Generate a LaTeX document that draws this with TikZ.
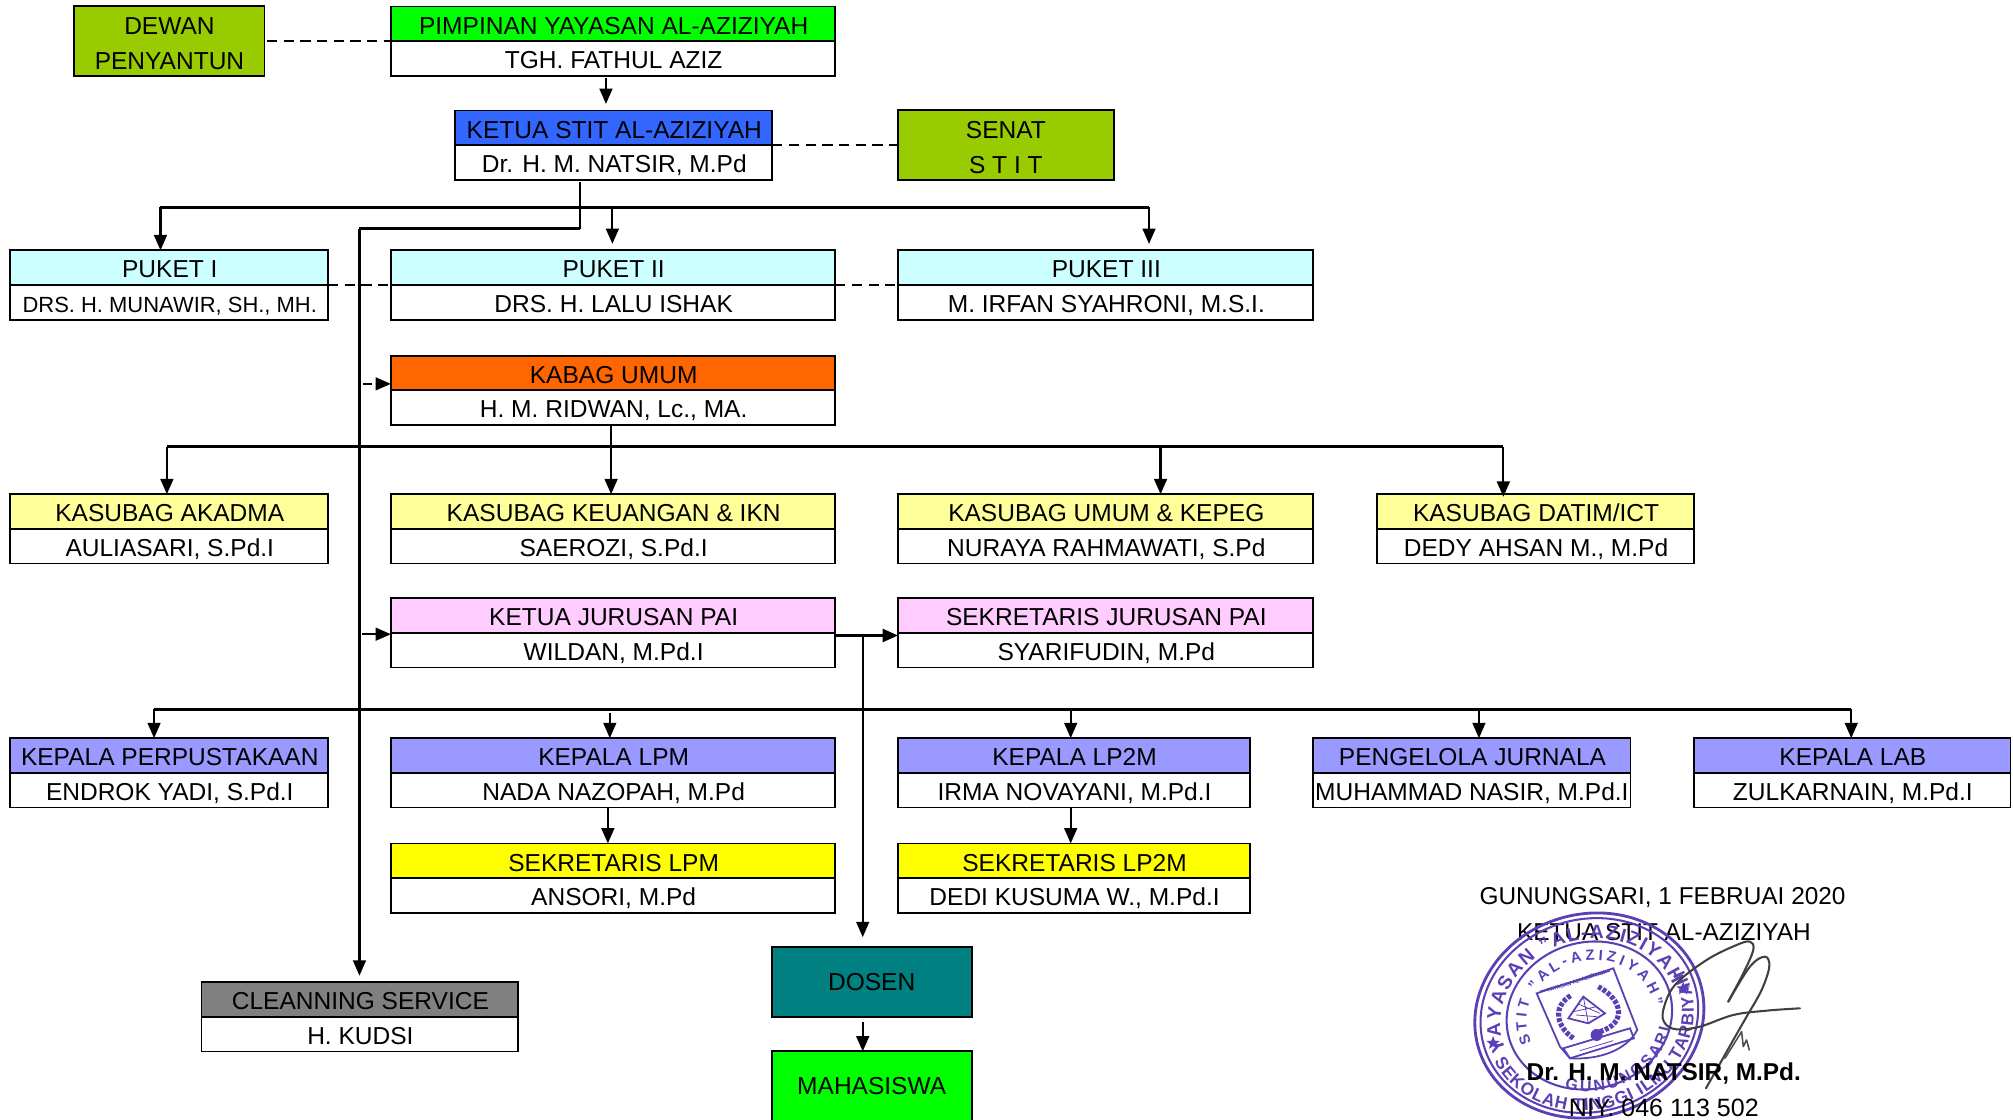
\documentclass[tikz,border=0pt]{standalone}
\usepackage{fontspec}
\setmainfont{Liberation Sans}
\usetikzlibrary{arrows.meta,calc,decorations.text,shapes.geometric}
\definecolor{cOlive}{HTML}{99CC00}
\definecolor{cGreen}{HTML}{00FF00}
\definecolor{cBlue}{HTML}{3366FF}
\definecolor{cCyan}{HTML}{CCFFFF}
\definecolor{cOrange}{HTML}{FF6600}
\definecolor{cLemon}{HTML}{FFFF99}
\definecolor{cPink}{HTML}{FFCCFF}
\definecolor{cPeri}{HTML}{9999FF}
\definecolor{cYellow}{HTML}{FFFF00}
\definecolor{cGray}{HTML}{808080}
\definecolor{cTeal}{HTML}{008080}
\definecolor{cStamp}{HTML}{5B3FB5}
\tikzset{
  cell/.style={draw=black,line width=1.4pt,inner sep=0pt,outer sep=0pt,font=\fontsize{19.1}{27}\selectfont,
     text height=16pt,text depth=0pt},
  solo/.style={draw=black,line width=1.5pt,inner sep=0pt,outer sep=0pt,font=\fontsize{19.1}{27}\selectfont,align=center},
  link/.style={line width=1.7pt,-{Triangle[width=10pt,length=12pt]}},
  thin link/.style={line width=1.7pt},
  bus/.style={line width=2.4pt},
  dash link/.style={line width=1.6pt,dash pattern=on 8pt off 5pt},
  sign/.style={font=\fontsize{19}{24}\selectfont,inner sep=0pt},
  stampline/.style={draw=cStamp,line width=1.4pt},
  stamptext/.style={decorate,decoration={text along path,text align=fit to path,text color=cStamp}},
}
\newcommand{\duo}[7]{%
  \node[cell,fill=#5,minimum width={(#3-#2)*1pt},minimum height=27pt] (#1-t) at ({(#2+#3)/2},{#4+13.5}) {\hspace*{1pt}#6};
  \node[cell,fill=white,minimum width={(#3-#2)*1pt},minimum height=27pt] (#1-b) at ({(#2+#3)/2},{#4+40.5}) {\hspace*{1pt}#7};
}
\begin{document}
\begin{tikzpicture}[x=1pt,y=-1pt]
\useasboundingbox (0,0) rectangle (1568,872.4);

% ---- boxes
\node[solo,fill=cOlive,minimum width=148pt,minimum height=54pt] (dewan) at (132,32) {\rule{0pt}{17.5pt}DEWAN\\PENYANTUN};
\duo{pimpinan}{304.5}{650.5}{5}{cGreen}{PIMPINAN YAYASAN AL-AZIZIYAH}{TGH. FATHUL AZIZ}
\duo{ketua}{354.5}{601.5}{86}{cBlue}{KETUA STIT AL-AZIZIYAH}{Dr. H. M. NATSIR, M.Pd}
\node[solo,fill=cOlive,minimum width=168pt,minimum height=54pt] (senat) at (783.5,113) {\rule{0pt}{17.5pt}SENAT\\S T I T};
\duo{puketa}{8}{255.5}{195}{cCyan}{PUKET I}{\fontsize{17.1}{27}\selectfont DRS. H. MUNAWIR, SH., MH.}
\duo{puketb}{304.5}{650.5}{195}{cCyan}{PUKET II}{DRS. H. LALU ISHAK}
\duo{puketc}{699.5}{1023}{195}{cCyan}{PUKET III}{M. IRFAN SYAHRONI, M.S.I.}
\duo{kabag}{304.5}{650.5}{277}{cOrange}{KABAG UMUM}{H. M. RIDWAN, Lc., MA.}
\duo{subaka}{8}{255.5}{385}{cLemon}{KASUBAG AKADMA}{AULIASARI, S.Pd.I}
\duo{subkeu}{304.5}{650.5}{385}{cLemon}{KASUBAG KEUANGAN \& IKN}{SAEROZI, S.Pd.I}
\duo{subkep}{699.5}{1023}{385}{cLemon}{KASUBAG UMUM \& KEPEG}{NURAYA RAHMAWATI, S.Pd}
\duo{subdat}{1072.5}{1319.5}{385}{cLemon}{KASUBAG DATIM/ICT}{DEDY AHSAN M., M.Pd}
\duo{kajur}{304.5}{650.5}{466}{cPink}{KETUA JURUSAN PAI}{WILDAN, M.Pd.I}
\duo{sekjur}{699.5}{1023}{466}{cPink}{SEKRETARIS JURUSAN PAI}{SYARIFUDIN, M.Pd}
\duo{perpus}{8}{255.5}{575}{cPeri}{KEPALA PERPUSTAKAAN}{ENDROK YADI, S.Pd.I}
\duo{lpm}{304.5}{650.5}{575}{cPeri}{KEPALA LPM}{NADA NAZOPAH, M.Pd}
\duo{lppm}{699.5}{973.5}{575}{cPeri}{KEPALA LP2M}{IRMA NOVAYANI, M.Pd.I}
\duo{jurnal}{1023}{1270}{575}{cPeri}{PENGELOLA JURNALA}{\hspace*{-1pt}MUHAMMAD NASIR, M.Pd.I}
\duo{lab}{1319.5}{1566}{575}{cPeri}{KEPALA LAB}{ZULKARNAIN, M.Pd.I}
\duo{seklpm}{304.5}{650.5}{657}{cYellow}{SEKRETARIS LPM}{ANSORI, M.Pd}
\duo{seklppm}{699.5}{973.5}{657}{cYellow}{SEKRETARIS LP2M}{DEDI KUSUMA W., M.Pd.I}
\duo{clean}{157}{403.5}{765}{cGray}{CLEANNING SERVICE}{H. KUDSI}
\node[solo,fill=cTeal,minimum width=156pt,minimum height=54pt] (dosen) at (679,765) {DOSEN};
\node[solo,fill=cGreen,minimum width=156pt,minimum height=54pt] (mhs) at (679,846) {MAHASISWA};

% ---- junctions
\coordinate (topdrop) at (452,178);
\coordinate (bus1) at (452,161.5);
\coordinate (b1a) at (125,161.5);
\coordinate (b1b) at (477,161.5);
\coordinate (b1c) at (895,161.5);
\coordinate (spine) at (280,178);
\coordinate (spinetip) at (280,760);
\coordinate (bus2) at (476,348);
\coordinate (b2a) at (130,348);
\coordinate (b2c) at (904,348);
\coordinate (b2d) at (1171,348);
\coordinate (bus3) at (672,552.5);
\coordinate (b3a) at (120,552.5);
\coordinate (b3b) at (475,552.5);
\coordinate (b3c) at (834,552.5);
\coordinate (b3d) at (1152,552.5);
\coordinate (b3e) at (1442,552.5);
\coordinate (split) at (672,495);
\coordinate (splittip) at (672,730);
\coordinate (kabin) at (283,299);
\coordinate (kajin) at (282,494);

% ---- connectors
\draw[dash link] (dewan.east |- pimpinan-t.south) ++(2,0) -- (pimpinan-t.south west);
\draw[dash link] (ketua-t.south east) -- (senat.west |- ketua-t.south);
\draw[dash link] (puketa-t.south east) -- (puketb-t.south west);
\draw[dash link] (puketb-t.south east) -- (puketc-t.south west);
\draw[link,shorten <=2pt,shorten >=5pt] (pimpinan-b.south -| 472,0) -- (ketua-t.north -| 472,0);

\draw[thin link,shorten <=2pt] (ketua-b.south -| topdrop) -- (topdrop);
\draw[bus] (b1a) -- (b1c);
\draw[link] (b1a) -- (b1a |- puketa-t.north);
\draw[link,shorten >=5pt] (b1b) -- (b1b |- puketb-t.north);
\draw[link,shorten >=5pt] (b1c) -- (b1c |- puketc-t.north);
\draw[bus] (topdrop) -- (spine);
\draw[link] (spine) -- (spinetip);
\draw[line width=1.6pt,dash pattern=on 7pt off 3pt,-{Triangle[width=10pt,length=12pt]}] (kabin) -- (kabag-t.south west |- kabin);
\draw[link] (kajin) -- (kajur-t.south west |- kajin);

\draw[thin link] (kabag-b.south -| bus2) -- (bus2);
\draw[bus] (b2a) -- (b2d);
\draw[link] (b2a) -- (b2a |- subaka-t.north);
\draw[link] (bus2) -- (bus2 |- subkeu-t.north);
\draw[link] (b2c) -- (b2c |- subkep-t.north);
\draw[link,shorten >=-2pt] (b2d) -- (b2d |- subdat-t.north);

\draw[link,line width=2.2pt] (kajur-t.south east |- split) -- (sekjur-t.south west |- split);
\draw[link] (split) -- (splittip);
\draw[bus] (b3a) -- (b3e);
\draw[link] (b3a) -- (b3a |- perpus-t.north);
\draw[link,shorten <=3pt] (b3b) -- (b3b |- lpm-t.north);
\draw[link] (b3c) -- (b3c |- lppm-t.north);
\draw[link] (b3d) -- (b3d |- jurnal-t.north);
\draw[link] (b3e) -- (b3e |- lab-t.north);
\draw[link] (lpm-b.south -| 473.5,0) -- (seklpm-t.north -| 473.5,0);
\draw[link] (lppm-b.south -| b3c) -- (seklppm-t.north -| b3c);
\draw[link,shorten <=4pt] (dosen.south -| split) -- (mhs.north -| split);

% ---- signature block
\node[sign] (place) at (1295,699.5) {GUNUNGSARI, 1 FEBRUAI 2020};
\node[sign] (role) at (1296,726) {KETUA STIT AL-AZIZIYAH};

% stamp: rings and circular text
\begin{scope}[shift={(1238,791)},x=1pt,y=1pt,rotate=16]
  \draw[stampline,line width=2.2pt] (0,0) ellipse [x radius=90,y radius=79];
  \draw[stampline,line width=1.6pt] (0,0) ellipse [x radius=85.5,y radius=75];
  \draw[stampline,line width=1.6pt] (0,0) ellipse [x radius=65,y radius=57];
  \path[stamptext,decoration={text={|\fontsize{15}{17}\bfseries\color{cStamp}|YAYASAN "AL-AZIZIYAH"}}]
     (-70,-8) arc[start angle=186,end angle=-2,x radius=70,y radius=61];
  \path[stamptext,decoration={text={|\fontsize{13.5}{16}\bfseries\color{cStamp}|SEKOLAH TINGGI ILMU TARBIYAH}}]
     (-81,-14) arc[start angle=190,end angle=372,x radius=82,y radius=72];
  \path[stamptext,decoration={text={|\fontsize{11.5}{13}\bfseries\color{cStamp}|STIT "AL-AZIZIYAH"}}]
     (-49,-8) arc[start angle=190,end angle=-8,x radius=50,y radius=43];
  \path[stamptext,decoration={text={|\fontsize{12.5}{14}\bfseries\color{cStamp}|GUNUNGSARI}}]
     (-34,-49) arc[start angle=235,end angle=335,x radius=62,y radius=56];
  \node[star,star points=5,star point ratio=2.4,fill=cStamp,inner sep=0pt,minimum size=11pt] (starl) at (-78,0) {};
  \node[star,star points=5,star point ratio=2.4,fill=cStamp,inner sep=0pt,minimum size=11pt] (starr) at (76,0) {};
\end{scope}

% stamp: shield emblem, signature (traced in crop coordinates)
\begin{scope}[shift={(1090.5,662.1)},x=.2596pt,y=-.2596pt]
  \draw[stampline] (410,430) -- (640,355) -- (712,540) .. controls (680,600) and (600,630) .. (510,625) -- (480,590) -- cycle;
  \draw[stampline] (420,425) -- (630,362);
  \node[rotate=18,text=cStamp,font=\fontsize{4.3}{5}\bfseries,inner sep=0pt] (shieldtxt) at (528,395) {YAYASAN AL-AZIZIYAH};
  \draw[cStamp,line width=4pt,dash pattern=on 3pt off 1.2pt] (520,565) .. controls (470,530) and (455,470) .. (515,435);
  \draw[cStamp,line width=4pt,dash pattern=on 3pt off 1.2pt] (600,545) .. controls (680,520) and (670,450) .. (595,410);
  \draw[stampline,fill=white] (505,505) -- (550,440) -- (615,490) -- (565,520) -- cycle;
  \draw[cStamp,line width=.6pt] (520,485) -- (590,470) (535,462) -- (600,490) (550,440) -- (565,520) (528,495) -- (590,500);
  \fill[cStamp] (590,555) circle [radius=18];
  \draw[stampline] (490,595) -- (690,535) -- (702,565) -- (510,625) -- cycle;
  \draw[cStamp,line width=.6pt] (540,602) -- (640,572);
  \draw[black!75,line width=1.6pt,line cap=round,line join=round] plot[smooth,tension=.6] coordinates {
    (1200,475) (1100,482) (1000,495) (900,530) (830,538) (795,520) (790,480) (825,405) (920,330) (1010,285) (1050,275) (1060,300) (1030,370) (985,455)};
  \draw[black!75,line width=1.6pt,line cap=round,line join=round] plot[smooth,tension=.6] coordinates {
    (985,455) (1050,350) (1095,320) (1108,350) (1085,420) (1040,500) (1000,570) (955,650) (918,715)};
  \draw[black!70,line width=1.2pt,line cap=round,line join=round] (975,625) -- (1025,545) -- (1030,590) -- (1040,570) -- (1048,600);
\end{scope}

\node[sign,font=\fontsize{19}{24}\selectfont\bfseries] (name) at (1296,836) {Dr. H. M. NATSIR, M.Pd.};
\node[sign,font=\fontsize{19.5}{24}\selectfont] (niy) at (1296,863) {NIY. 046 113 502};
\end{tikzpicture}
\end{document}
